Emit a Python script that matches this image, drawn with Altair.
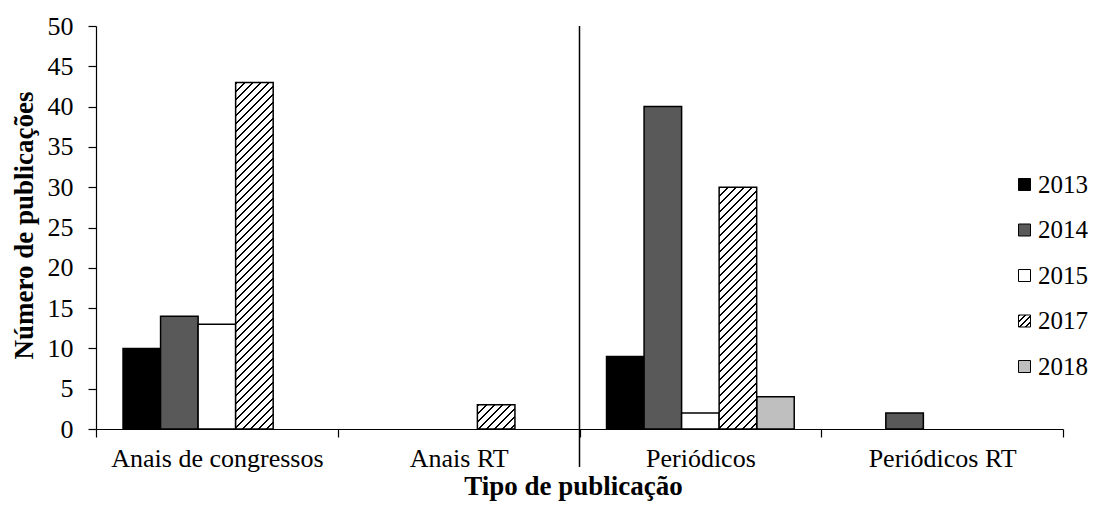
import altair as alt
import pandas as pd

categories = ["Anais de congressos", "Anais RT", "Periódicos", "Periódicos RT"]
years = ["2013", "2014", "2015", "2017", "2018"]
v2013 = [10, 0, 9, 0]
v2014 = [14, 0, 40, 2]
v2015 = [13, 0, 2, 0]
v2017 = [43, 3, 30, 0]
v2018 = [0, 0, 4, 0]
colors = ["#000000", "#595959", "#ffffff", "#ffffff", "#bfbfbf"]
hatched_year = "2017"

series = {"2013": v2013, "2014": v2014, "2015": v2015, "2017": v2017, "2018": v2018}
rows = []
for yr, vals in series.items():
    for c, v in zip(categories, vals):
        rows.append({"tipo": c, "ano": yr, "n": v})
df = pd.DataFrame(rows)

W, H = 967, 403
YMAX = 50
PAD_OUTER = 0.72
off_step = (W / len(categories)) / (len(years) + 2 * PAD_OUTER)
FONT = "Liberation Serif"


def hatch(w, h, period=8.0, ink=0.3):
    total = w + h
    a = total / (w * w + h * h)
    n = total / period
    stops = []
    k = 0
    while k < n:
        o0 = min(k / n, 1.0)
        o1 = min((k + ink) / n, 1.0)
        o2 = min((k + 1) / n, 1.0)
        stops += [
            {"offset": round(o0, 5), "color": "#000000"},
            {"offset": round(o1, 5), "color": "#000000"},
            {"offset": round(o1, 5), "color": "#ffffff"},
            {"offset": round(o2, 5), "color": "#ffffff"},
        ]
        k += 1
    return {"gradient": "linear", "stops": stops, "x1": 0, "y1": 0,
            "x2": round(a * w, 5), "y2": round(a * h, 5)}


def grad_expr(g):
    stops = ", ".join("{offset: %s, color: '%s'}" % (s["offset"], s["color"]) for s in g["stops"])
    return "{gradient: 'linear', x1: %s, y1: %s, x2: %s, y2: %s, stops: [%s]}" % (
        g["x1"], g["y1"], g["x2"], g["y2"], stops)


legend_grad = hatch(12, 12, period=6.0, ink=0.4)
color_range = []
for yr, col in zip(years, colors):
    if yr == hatched_year:
        color_range.append(alt.ExprRef(expr=grad_expr(legend_grad)))
    else:
        color_range.append(col)

x_enc = alt.X(
    "tipo:N",
    sort=categories,
    scale=alt.Scale(domain=categories, paddingInner=0, paddingOuter=0),
    title="Tipo de publicação",
    axis=alt.Axis(
        labelAngle=0,
        labelLimit=0,
        tickBand="extent",
        tickSize=8,
        labelPadding=8,
        titleX=477,
        titleY=65,
        titleBaseline="alphabetic",
    ),
)
xo_enc = alt.XOffset("ano:N", scale=alt.Scale(domain=years, paddingInner=0, paddingOuter=PAD_OUTER))
y_enc = alt.Y(
    "n:Q",
    scale=alt.Scale(domain=[0, YMAX], nice=False),
    title="Número de publicações",
    axis=alt.Axis(
        values=list(range(0, YMAX + 1, 5)),
        tickSize=8,
        labelPadding=15,
        grid=False,
        titleX=-72,
        titleY=199,
        titleAngle=-90,
        titleAlign="center",
        titleBaseline="middle",
    ),
)

solid = (
    alt.Chart(df)
    .transform_filter(f"datum.ano !== '{hatched_year}' && datum.n > 0")
    .mark_bar(stroke="#000000", strokeWidth=1.5)
    .encode(
        x=x_enc,
        xOffset=xo_enc,
        y=y_enc,
        color=alt.Color(
            "ano:N",
            scale=alt.Scale(domain=years, range=color_range),
            legend=alt.Legend(
                title=None,
                orient="none",
                legendX=916,
                legendY=146,
                symbolType="square",
                symbolSize=144,
                symbolStrokeColor="#000000",
                symbolStrokeWidth=1,
                symbolOpacity=1,
                labelFont=FONT,
                labelFontSize=25,
                labelColor="#000000",
                labelOffset=1,
                labelLimit=0,
                rowPadding=19.5,
            ),
        ),
    )
)

layers = [solid]
for c, v in zip(categories, series[hatched_year]):
    if v <= 0:
        continue
    h = v * H / YMAX
    layers.append(
        alt.Chart(df)
        .transform_filter(f"datum.ano === '{hatched_year}' && datum.tipo === '{c}'")
        .mark_bar(fill=hatch(off_step, h), stroke="#000000", strokeWidth=1.5)
        .encode(x=x_enc, xOffset=xo_enc, y=y_enc)
    )

sep_df = pd.DataFrame({"tipo": ["Periódicos"]})
sep = (
    alt.Chart(sep_df)
    .mark_rule(color="#000000", strokeWidth=1.5)
    .encode(
        x=alt.X("tipo:N", bandPosition=0, title="Tipo de publicação"),
        y=alt.value(0),
        y2=alt.value(441),
    )
)
layers.append(sep)

chart = (
    alt.layer(*layers)
    .properties(
        width=W,
        height=H,
        autosize=alt.AutoSizeParams(type="none"),
        padding={"left": 88, "top": 18, "right": 25, "bottom": 73},
        background="#ffffff",
    )
    .configure_view(stroke=None)
    .configure_axis(
        labelFont=FONT,
        labelFontSize=26,
        labelColor="#000000",
        titleFont=FONT,
        titleFontSize=27,
        titleFontWeight="bold",
        titleColor="#000000",
        domainColor="#000000",
        domainWidth=1.2,
        tickColor="#000000",
        tickWidth=1.2,
    )
)

chart.save("out.html", embed_options={"renderer": "svg", "actions": False})
